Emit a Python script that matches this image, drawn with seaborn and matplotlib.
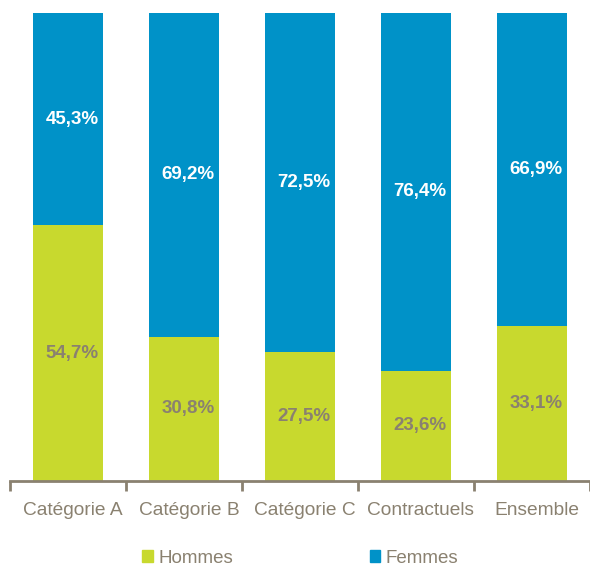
import numpy as np
import pandas as pd
import matplotlib
matplotlib.use("Agg")
import matplotlib.pyplot as plt
import matplotlib.transforms as mtransforms
from matplotlib.patches import Patch
import seaborn as sns

# Data
categories = ["Catégorie A", "Catégorie B", "Catégorie C", "Contractuels", "Ensemble"]
hommes = [54.7, 30.8, 27.5, 23.6, 33.1]
femmes = [45.3, 69.2, 72.5, 76.4, 66.9]

GREEN = "#C8D92E"
BLUE = "#0092C8"
GREY = "#8A8170"

sns.set_theme(style="white")
plt.rcParams["font.family"] = ["Liberation Sans", "DejaVu Sans"]

df = pd.DataFrame({"cat": categories, "hommes": hommes, "femmes": femmes})
df["total"] = df["hommes"] + df["femmes"]

fig = plt.figure(figsize=(5.9, 5.69), dpi=100)
ax = fig.add_axes([10 / 590, 88 / 569, 580 / 590, 468 / 569])

sns.barplot(data=df, x="cat", y="total", color=BLUE, width=0.6, saturation=1,
            ax=ax, linewidth=0)
sns.barplot(data=df, x="cat", y="hommes", color=GREEN, width=0.6, saturation=1,
            ax=ax, linewidth=0)

# labels in the source sit a few pixels right of the bar centres
shift = mtransforms.ScaledTranslation(4 / 100, 0, fig.dpi_scale_trans)
for i, (h, f) in enumerate(zip(hommes, femmes)):
    ax.text(i, h / 2, f"{h:.1f}%".replace(".", ","), ha="center", va="center",
            color=GREY, fontsize=13.5, fontweight="bold",
            transform=ax.transData + shift)
    ax.text(i, h + f / 2, f"{f:.1f}%".replace(".", ","), ha="center", va="center",
            color="white", fontsize=13.5, fontweight="bold",
            transform=ax.transData + shift)

ax.set_xlim(-0.5, len(categories) - 0.5)
ax.set_ylim(0, 100)
ax.set_xlabel("")
ax.set_ylabel("")
ax.set_yticks([])

for s in ["top", "right", "left"]:
    ax.spines[s].set_visible(False)
ax.spines["bottom"].set_color(GREY)
ax.spines["bottom"].set_linewidth(2)

ax.set_xticks(range(len(categories)))
ax.set_xticklabels(categories, color=GREY, fontsize=13.8)
ax.tick_params(axis="x", which="major", length=0, pad=15)
ax.set_xticks(np.arange(-0.5, len(categories)), minor=True)
ax.tick_params(axis="x", which="minor", length=7, width=2, color=GREY,
               direction="out", bottom=True)
lab_shift = mtransforms.ScaledTranslation(5 / 100, 0, fig.dpi_scale_trans)
for lab in ax.get_xticklabels():
    lab.set_transform(lab.get_transform() + lab_shift)

handles = [Patch(color=GREEN, label="Hommes"), Patch(color=BLUE, label="Femmes")]
leg = fig.legend(handles=handles, loc="center", bbox_to_anchor=(0.509, 0.019),
                 ncol=2, frameon=False, fontsize=13.5, handlelength=0.55,
                 handleheight=0.55, handletextpad=0.3, columnspacing=7.3,
                 borderpad=0.1)
for t in leg.get_texts():
    t.set_color(GREY)

fig.savefig("out.png", dpi=100)
